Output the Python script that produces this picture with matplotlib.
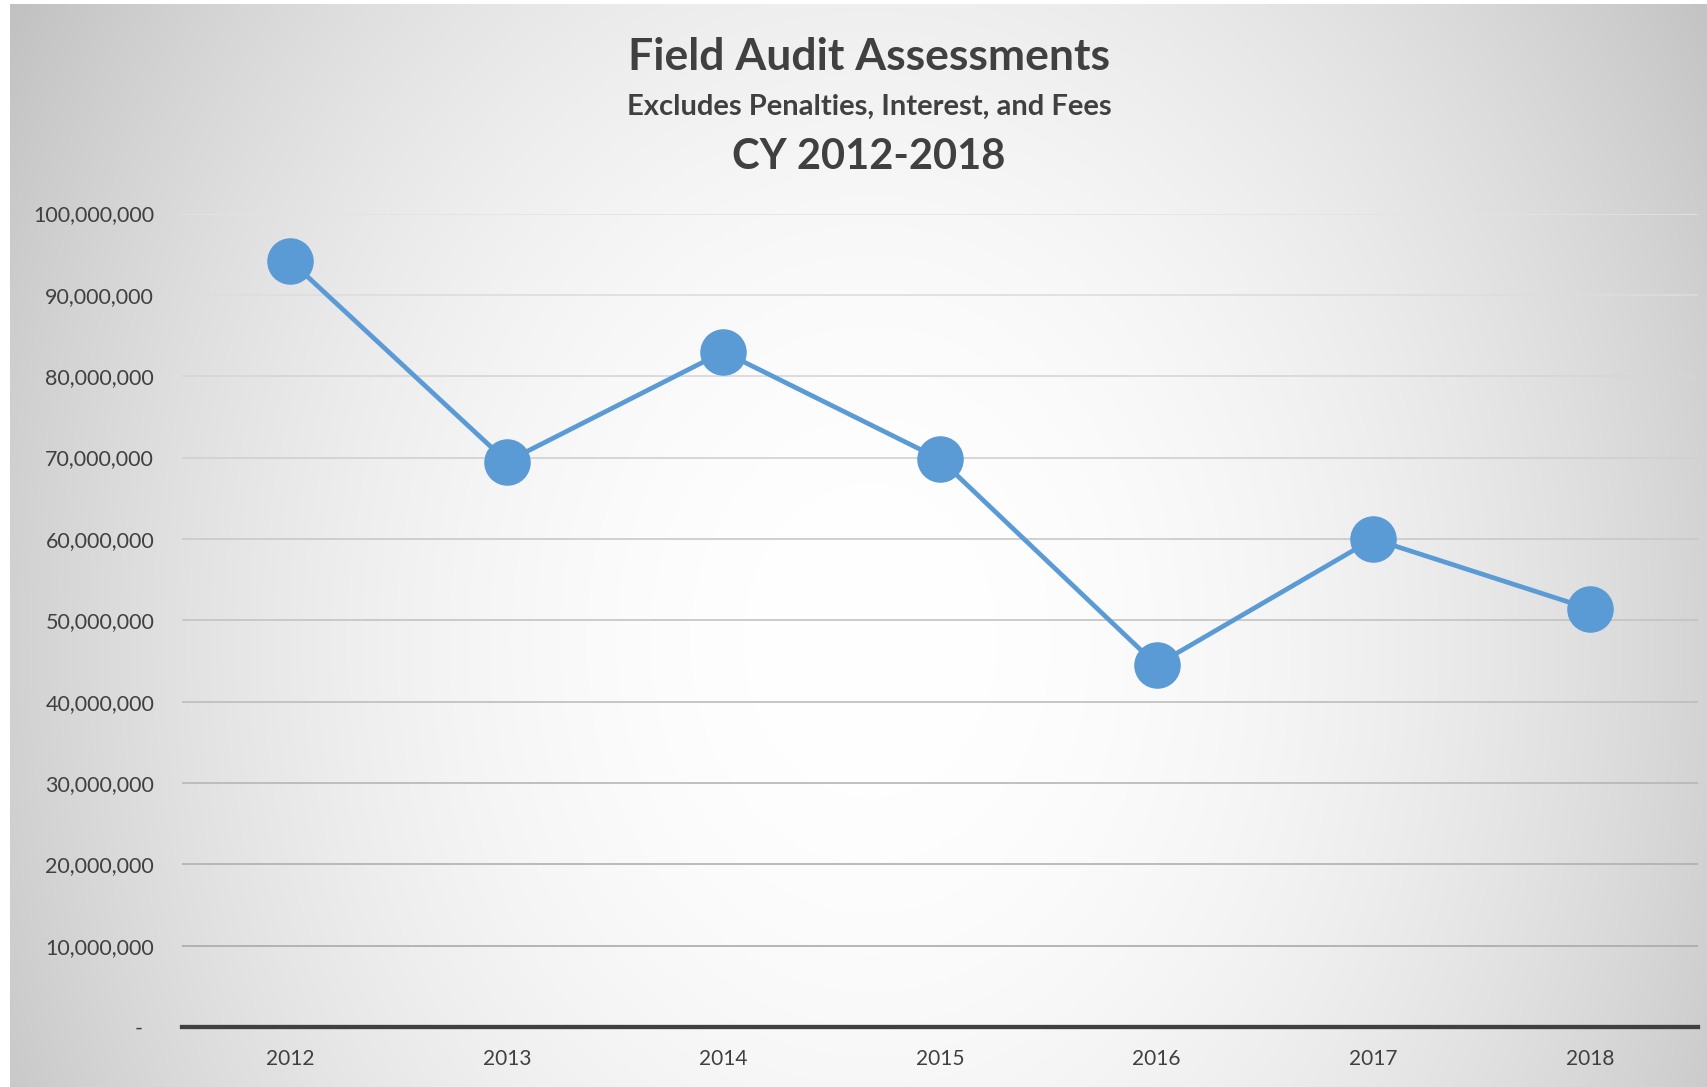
import numpy as np
import matplotlib
matplotlib.use("Agg")
import matplotlib.pyplot as plt
from matplotlib.ticker import FuncFormatter

# data
years = ["2012", "2013", "2014", "2015", "2016", "2017", "2018"]
assessments = [94.2e6, 69.5e6, 83.0e6, 69.8e6, 44.5e6, 60.0e6, 51.4e6]
y_ticks = np.arange(0, 100e6 + 1, 10e6)

plt.rcParams['font.family'] = ['Lato', 'DejaVu Sans']
text_col = "#404040"

fig = plt.figure(figsize=(17.08, 10.87), dpi=100)

# radial grey background (white in the middle, grey at the sides)
bg = fig.add_axes([0, 0, 1, 1], zorder=0)
W, H = 1708, 1087
xx, yy = np.meshgrid(np.arange(W), np.arange(H))
cx, cy = 870, 640
val = 1 - 0.18 * ((xx - cx) / 860.0) ** 2 - 0.065 * ((yy - cy) / 640.0) ** 2
val = np.clip(val, 0.76, 1)
img = np.dstack([val, val, val])
img[:, :10] = 1.0
img[:4, :] = 1.0
bg.imshow(img, extent=[0, W, H, 0], aspect="auto", interpolation="bilinear")
bg.axis("off")

ax = fig.add_axes([182 / W, 60 / H, (1698 - 182) / W, (1027 - 213.5) / H], zorder=1)
ax.patch.set_alpha(0)

x = np.arange(len(years))
ax.plot(x, assessments, color="#5B9BD5", linewidth=3.4, marker="o",
        markersize=32.5, markerfacecolor="#5B9BD5", markeredgecolor="#5B9BD5", zorder=3)

ax.set_xlim(-0.5, len(years) - 0.5)
ax.set_ylim(0, 100e6)
ax.set_yticks(y_ticks)
ax.yaxis.set_major_formatter(FuncFormatter(lambda v, p: "-  " if v == 0 else f"{int(v):,}"))
ax.set_xticks(x)
ax.set_xticklabels(years)

# gridlines: darker toward the bottom, lighter toward the top
for t in y_ticks[1:]:
    g = 0.64 + 0.25 * (t / 100e6)
    ax.axhline(t, color=(g, g, g), linewidth=1.2, zorder=1)

for s in ["top", "right", "left"]:
    ax.spines[s].set_visible(False)
ax.spines["bottom"].set_color("#404040")
ax.spines["bottom"].set_linewidth(3.1)
ax.spines["bottom"].set_zorder(2)

ax.tick_params(axis="y", length=0, pad=20, labelsize=15.5, labelcolor=text_col)
ax.tick_params(axis="x", length=0, pad=16, labelsize=15, labelcolor=text_col)

tx = 869 / W
fig.text(tx, 1 - 57.5 / H, "Field Audit Assessments", ha="center", va="center",
         fontsize=32, fontweight="bold", color=text_col)
fig.text(tx, 1 - 107 / H, "Excludes Penalties, Interest, and Fees", ha="center", va="center",
         fontsize=21, fontweight="bold", color=text_col)
fig.text(tx, 1 - 157 / H, "CY 2012-2018", ha="center", va="center",
         fontsize=30, fontweight="bold", color=text_col)

fig.savefig("out.png", dpi=100)
